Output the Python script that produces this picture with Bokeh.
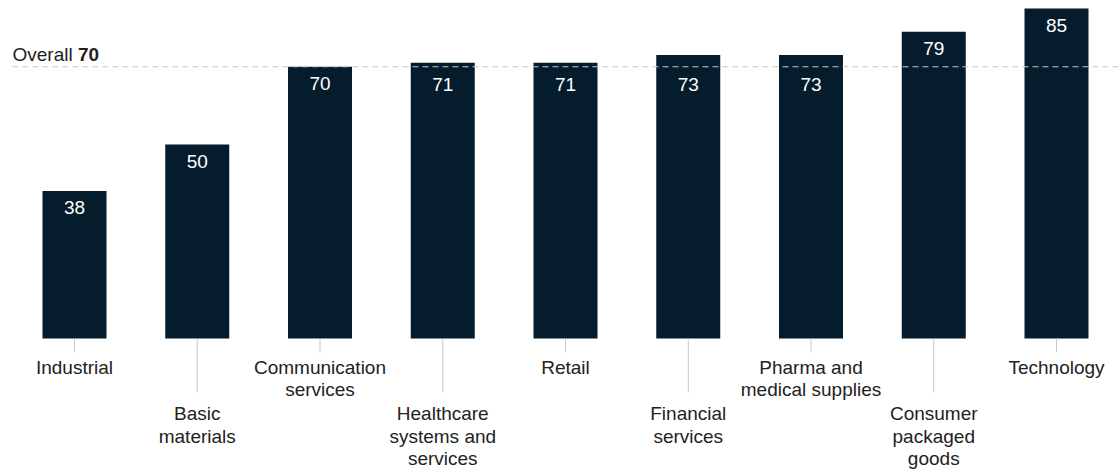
from bokeh.plotting import figure
from bokeh.models import Range1d, ColumnDataSource
from bokeh.core.properties import value
from bokeh.embed import file_html
from bokeh.resources import INLINE

# ---- data ----
categories = ["Industrial", "Basic\nmaterials", "Communication\nservices",
              "Healthcare\nsystems and\nservices", "Retail", "Financial\nservices",
              "Pharma and\nmedical supplies", "Consumer\npackaged\ngoods", "Technology"]
scores = [38, 50, 70, 71, 71, 73, 73, 79, 85]
overall = 70
overall_label = "Overall"

# ---- layout ----
W, H = 1119, 473
BASE_PX = 338.0             # canvas y of zero
TOP_PX = 8.0                # canvas y of 85
PX_Y = (BASE_PX - TOP_PX) / 85.0
X0_PX = 74.0                # canvas x of first category centre
PX_X = 122.75               # px per category
FONT = "Liberation Sans"
FS = "19px"
BAR = "#051c2c"
TXT = "#222222"
GRID = "#c8c8c8"

x_range = Range1d(-X0_PX / PX_X, (W - X0_PX) / PX_X)
y_range = Range1d(-(H - BASE_PX) / PX_Y, 85.0 + TOP_PX / PX_Y)

p = figure(width=W, height=H, x_range=x_range, y_range=y_range,
           output_backend="svg", toolbar_location=None,
           x_axis_type=None, y_axis_type=None,
           min_border=0, min_border_left=0, min_border_right=0,
           min_border_top=0, min_border_bottom=0)
p.outline_line_color = None
p.grid.visible = False
p.background_fill_color = "white"
p.border_fill_color = "white"

xs = list(range(len(categories)))

# value label offsets: 17px below the bar top, but kept clear of the overall line
line_px = BASE_PX - overall * PX_Y
val_off = []
for v in scores:
    top_px = BASE_PX - v * PX_Y
    c = top_px + 17
    if abs(c - line_px) < 16:
        c = line_px + 18
    val_off.append(c - top_px)

src = ColumnDataSource(dict(x=xs, top=scores, lab=[str(v) for v in scores], off=val_off))

p.vbar(x="x", top="top", bottom=0, width=64 / PX_X, source=src,
       fill_color=BAR, line_color=None)

# leader lines and category labels
stagger = [i % 2 for i in xs]
seg_x, seg_y1 = [], []
lx, ly, loff, ltxt = [], [], [], []
for i, cat in enumerate(categories):
    row = stagger[i]
    seg_x.append(i)
    seg_y1.append(-(14 if row == 0 else 54) / PX_Y)
    first = 28.5 if row == 0 else 75.0
    for k, line in enumerate(cat.split("\n")):
        lx.append(i)
        ly.append(0)
        loff.append(first + 22.5 * k)
        ltxt.append(line)

p.segment(x0=seg_x, y0=[0] * len(seg_x), x1=seg_x, y1=seg_y1,
          line_color=GRID, line_width=1)

lsrc = ColumnDataSource(dict(x=lx, y=ly, off=loff, t=ltxt))
p.text(x="x", y="y", text="t", y_offset="off", source=lsrc,
       text_align="center", text_baseline="middle",
       text_color=TXT, text_font=value(FONT), text_font_size=FS)

# overall dashed line (drawn over bars)
x_start = (12 - X0_PX) / PX_X
p.segment(x0=[x_start], y0=[overall], x1=[x_range.end + 1], y1=[overall],
          line_color=GRID, line_width=1.2, line_dash="6 4")

p.text(x="x", y="top", text="lab", source=src, y_offset="off",
       text_align="center", text_baseline="middle",
       text_color="white", text_font=value(FONT), text_font_size=FS)

p.text(x=[x_start], y=[overall], text=[overall_label], y_offset=-12,
       text_align="left", text_baseline="middle",
       text_color=TXT, text_font=value(FONT), text_font_size=FS)
p.text(x=[x_start], y=[overall], text=[str(overall)], y_offset=-12, x_offset=65.5,
       text_align="left", text_baseline="middle", text_font_style="bold",
       text_color=TXT, text_font=value(FONT), text_font_size=FS)

open("out.html", "w").write(file_html(p, INLINE))
